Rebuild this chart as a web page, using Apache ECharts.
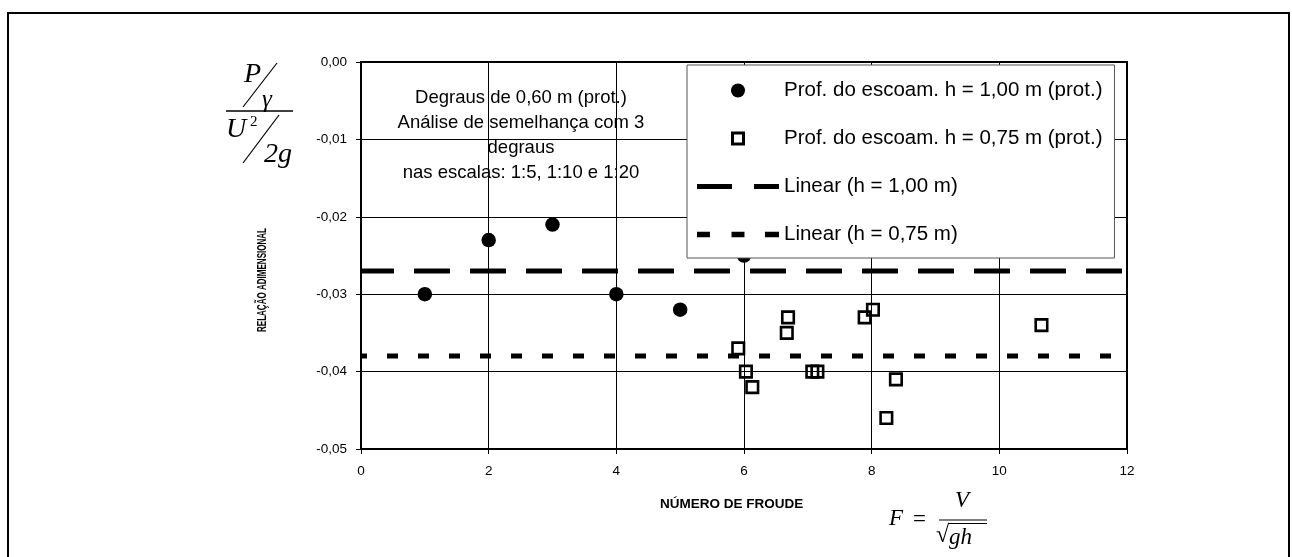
<!DOCTYPE html>
<html>
<head>
<meta charset="utf-8">
<script src="https://cdn.jsdelivr.net/npm/echarts@6/dist/echarts.min.js"></script>
<style>
  html, body { margin: 0; padding: 0; background: #fff; }
  #chart { width: 1292px; height: 557px; }
</style>
</head>
<body>
<div id="chart"></div>
<script>
// Froude number (x) and dimensionless pressure ratio (y) for the two flow depths
const froudeH100 = [1, 2, 3, 4, 5, 6];
const relH100 = [-0.030, -0.023, -0.021, -0.030, -0.032, -0.025];
const froudeH075 = [5.91, 6.03, 6.13, 6.69, 6.67, 7.07, 7.15, 7.89, 8.02, 8.38, 8.23, 10.66];
const relH075 = [-0.037, -0.040, -0.042, -0.033, -0.035, -0.040, -0.040, -0.033, -0.032, -0.041, -0.046, -0.034];

// Linear trend levels, drawn across the full Froude range
const froudeRange = [0, 12];
const trendH100 = -0.027;
const trendH075 = -0.038;

const seriesNames = [
  'Prof. do escoam. h = 1,00 m (prot.)',
  'Prof. do escoam. h = 0,75 m (prot.)',
  'Linear (h = 1,00 m)',
  'Linear (h = 0,75 m)'
];
const noteLines = [
  'Degraus de 0,60 m (prot.)',
  'Análise de semelhança com 3',
  'degraus',
  'nas escalas: 1:5, 1:10 e 1:20'
];
const xAxisTitle = 'NÚMERO DE FROUDE';
const yAxisTitle = 'RELAÇÃO ADIMENSIONAL';

const pairs = (xs, ys) => xs.map((x, i) => [x, ys[i]]);
const flat = (level) => froudeRange.map(x => [x, level]);

const SANS = '"Liberation Sans", Arial, sans-serif';
const SERIF = '"Liberation Serif", "Times New Roman", serif';

function txt(text, x, y, font, align, extra) {
  return Object.assign({
    type: 'text', x: x, y: y, silent: true, z: 20,
    style: {
      text: text, font: font, fill: '#000',
      align: align || 'left', verticalAlign: 'middle',
      textAlign: align || 'left', textVerticalAlign: 'middle'
    }
  }, extra || {});
}
function seg(x1, y1, x2, y2, w) {
  return {
    type: 'line', silent: true, z: 20,
    shape: { x1: x1, y1: y1, x2: x2, y2: y2 },
    style: { stroke: '#000', lineWidth: w || 1.2 }
  };
}

const chart = echarts.init(document.getElementById('chart'), null, { renderer: 'canvas' });

const option = {
  animation: false,
  backgroundColor: '#fff',
  grid: {
    left: 361, top: 62, right: 165, bottom: 108,
    show: true, borderColor: '#000', borderWidth: 2, backgroundColor: 'transparent'
  },
  xAxis: {
    type: 'value', min: 0, max: 12, interval: 2,
    axisLine: { onZero: false, lineStyle: { color: '#000', width: 2 } },
    axisTick: { show: true, length: 5, lineStyle: { color: '#000', width: 1 } },
    axisLabel: { color: '#000', fontFamily: SANS, fontSize: 13.5, margin: 15 },
    splitLine: { show: true, lineStyle: { color: '#000', width: 1 } }
  },
  yAxis: {
    type: 'value', min: -0.05, max: 0, interval: 0.01,
    axisLine: { onZero: false, lineStyle: { color: '#000', width: 2 } },
    axisTick: { show: true, length: 5, lineStyle: { color: '#000', width: 1 } },
    axisLabel: {
      color: '#000', fontFamily: SANS, fontSize: 13.5, margin: 14,
      formatter: v => v.toFixed(2).replace('.', ',').replace('-0,00', '0,00')
    },
    splitLine: { show: true, lineStyle: { color: '#000', width: 1 } }
  },
  legend: {
    left: 687, top: 65,
    orient: 'vertical',
    backgroundColor: '#fff',
    borderColor: '#555', borderWidth: 1,
    padding: [15, 12, 13, 10],
    itemWidth: 82, itemHeight: 14, itemGap: 27,
    selectedMode: false,
    textStyle: { color: '#000', fontFamily: SANS, fontSize: 20.5, lineHeight: 20 },
    data: [
      { name: seriesNames[0], icon: 'circle', itemStyle: { color: '#000', borderWidth: 0, opacity: 1 } },
      { name: seriesNames[1], icon: 'path://M0,0h14v14h-14z M3,3v8h8v-8z', itemStyle: { color: '#000', borderWidth: 0, opacity: 1 } },
      { name: seriesNames[2], icon: 'path://M0,0h35v5h-35z M57,0h25v5h-25z', itemStyle: { color: '#000', borderWidth: 0, opacity: 1 } },
      { name: seriesNames[3], icon: 'path://M0,0h12v5h-12z M32,0h12v5h-12z M63,0h13v5h-13z', itemStyle: { color: '#000', borderWidth: 0, opacity: 1 } }
    ],
    z: 10
  },
  series: [
    {
      name: seriesNames[2], type: 'line', data: flat(trendH100),
      symbol: 'none', silent: true, z: 3,
      lineStyle: { color: '#000', width: 5, type: [36, 20], dashOffset: 3, cap: 'butt', opacity: 1 }
    },
    {
      name: seriesNames[3], type: 'line', data: flat(trendH075),
      symbol: 'none', silent: true, z: 3,
      lineStyle: { color: '#000', width: 5, type: [11, 20], dashOffset: 5, cap: 'butt', opacity: 1 }
    },
    {
      name: seriesNames[0], type: 'scatter', data: pairs(froudeH100, relH100),
      symbol: 'circle', symbolSize: 14.5, z: 4, silent: true,
      itemStyle: { color: '#000', opacity: 1 }
    },
    {
      name: seriesNames[1], type: 'scatter', data: pairs(froudeH075, relH075),
      symbol: 'rect', symbolSize: 11.5, z: 4, silent: true,
      itemStyle: { color: 'transparent', borderColor: '#000', borderWidth: 2.6, opacity: 1 }
    }
  ],
  graphic: [
    // outer chart frame
    {
      type: 'rect', silent: true, z: 0,
      shape: { x: 8, y: 13, width: 1281, height: 570 },
      style: { fill: 'none', stroke: '#000', lineWidth: 2 }
    },
    // note inside the plot
    txt(noteLines[0], 521, 98, '18.5px ' + SANS, 'center'),
    txt(noteLines[1], 521, 123, '18.5px ' + SANS, 'center'),
    txt(noteLines[2], 521, 148, '18.5px ' + SANS, 'center'),
    txt(noteLines[3], 521, 173, '18.5px ' + SANS, 'center'),
    // axis titles
    txt(xAxisTitle, 660, 504, 'bold 13.5px ' + SANS, 'left'),
    txt(yAxisTitle, 263, 280, 'bold 12.5px ' + SANS, 'center', { rotation: Math.PI / 2, scaleX: 0.643 }),
    // (P / gamma) / (U^2 / 2g)
    txt('P', 244, 75, 'italic 28px ' + SERIF, 'left'),
    seg(243, 107, 277, 63),
    txt('γ', 262, 100, 'italic 25px ' + SERIF, 'left'),
    seg(226, 111, 293, 111, 1.4),
    txt('U', 226, 130, 'italic 28px ' + SERIF, 'left'),
    txt('2', 250, 122, '15px ' + SERIF, 'left'),
    seg(243, 163, 279, 115),
    txt('2g', 264, 155, 'italic 28px ' + SERIF, 'left'),
    // F = V / sqrt(gh)
    txt('F', 889, 519, 'italic 23px ' + SERIF, 'left'),
    txt('=', 913, 520, '23px ' + SERIF, 'left'),
    txt('V', 962, 501, 'italic 23px ' + SERIF, 'center'),
    seg(939, 520, 987, 520, 1.2),
    txt('√', 936, 536, '24px ' + SERIF, 'left'),
    seg(948, 523.5, 987, 523.5, 1),
    txt('gh', 949, 538, 'italic 23px ' + SERIF, 'left')
  ]
};

chart.setOption(option);
</script>
</body>
</html>
